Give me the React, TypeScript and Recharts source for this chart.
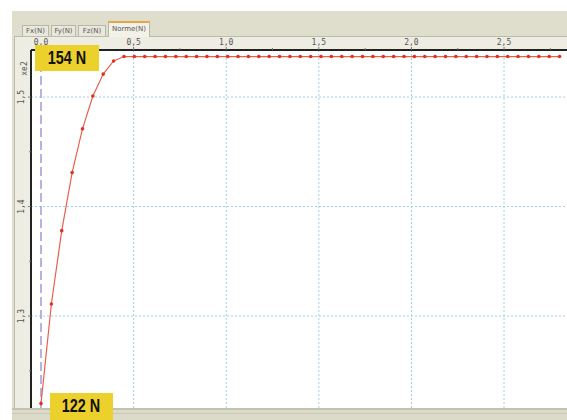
import React from 'react';
import { LineChart, Line, XAxis, YAxis, ReferenceLine } from 'recharts';

// time (s)
const times = [
  0, 0.056, 0.112, 0.168, 0.224, 0.28, 0.336, 0.392, 0.448, 0.504,
  0.56, 0.616, 0.672, 0.728, 0.784, 0.84, 0.896, 0.952, 1.008, 1.064,
  1.12, 1.176, 1.232, 1.288, 1.344, 1.4, 1.456, 1.512, 1.568, 1.624,
  1.68, 1.736, 1.792, 1.848, 1.904, 1.96, 2.016, 2.072, 2.128, 2.184,
  2.24, 2.296, 2.352, 2.408, 2.464, 2.52, 2.576, 2.632, 2.688, 2.744, 2.8,
];
// Norme (N) x e2
const norme = [
  1.22, 1.311, 1.378, 1.431, 1.471, 1.501, 1.521, 1.533, 1.537, 1.537,
  1.537, 1.537, 1.537, 1.537, 1.537, 1.537, 1.537, 1.537, 1.537, 1.537,
  1.537, 1.537, 1.537, 1.537, 1.537, 1.537, 1.537, 1.537, 1.537, 1.537,
  1.537, 1.537, 1.537, 1.537, 1.537, 1.537, 1.537, 1.537, 1.537, 1.537,
  1.537, 1.537, 1.537, 1.537, 1.537, 1.537, 1.537, 1.537, 1.537, 1.537, 1.537,
];
const xMajor = [0, 0.5, 1.0, 1.5, 2.0, 2.5];
const xTicks = [0, 0.25, 0.5, 0.75, 1.0, 1.25, 1.5, 1.75, 2.0, 2.25, 2.5, 2.75];
const yMajor = [1.3, 1.4, 1.5];
const yTicks = [1.25, 1.3, 1.35, 1.4, 1.45, 1.5];
const tabs = ['Fx(N)', 'Fy(N)', 'Fz(N)', 'Norme(N)'];
const maxLabel = '154 N';
const minLabel = '122 N';

const data = times.map((t, i) => ({ t, v: norme[i] }));

const fmt = (v: number) => v.toFixed(1).replace('.', ',');
const isMajor = (arr: number[], v: number) => arr.some((m) => Math.abs(m - v) < 1e-6);

const XTick = (props: any) => {
  const { x, payload } = props;
  const y = 50;
  const major = isMajor(xMajor, payload.value);
  return (
    <g>
      <line x1={x} x2={x} y1={y} y2={y - (major ? 3 : 2)} stroke="#777" strokeWidth={1} />
      {major && (
        <text x={x} y={y - 5} textAnchor="middle" fontSize={8} fill="#555" fontFamily="DejaVu Sans Mono, monospace">
          {fmt(payload.value)}
        </text>
      )}
    </g>
  );
};

const YTick = (props: any) => {
  const { y, payload } = props;
  const x = 31;
  const major = isMajor(yMajor, payload.value);
  return (
    <g>
      <line x1={x} x2={x - (major ? 3 : 2)} y1={y} y2={y} stroke="#777" strokeWidth={1} />
      {major && (
        <text
          x={x - 7}
          y={y}
          textAnchor="middle"
          fontSize={8}
          fill="#555"
          fontFamily="DejaVu Sans Mono, monospace"
          transform={`rotate(-90 ${x - 7} ${y})`}
        >
          {fmt(payload.value)}
        </text>
      )}
    </g>
  );
};

const labelStyle: React.CSSProperties = {
  position: 'absolute',
  background: '#ecd02c',
  color: '#111',
  fontFamily: "'Liberation Sans', Arial, sans-serif",
  fontWeight: 700,
  fontSize: 18,
  display: 'flex',
  alignItems: 'center',
  justifyContent: 'center',
  zIndex: 5,
};

export default function App() {
  return (
    <div style={{ position: 'absolute', left: 0, top: 0, width: 567, height: 420, background: '#fff', overflow: 'hidden' }}>
      {/* panel */}
      <div style={{ position: 'absolute', left: 12, top: 11, width: 555, height: 409, background: '#dfddcc' }} />
      {/* tabs */}
      {tabs.map((name, i) => {
        const lefts = [22, 51, 78, 108];
        const widths = [27, 25, 28, 42];
        const sel = i === tabs.length - 1;
        return (
          <div
            key={name}
            style={{
              position: 'absolute',
              left: lefts[i],
              top: sel ? 21 : 25,
              width: widths[i],
              height: sel ? 16 : 11,
              background: sel ? '#f3f2e8' : '#e9e8dc',
              border: '1px solid #b9b7a6',
              borderTop: sel ? '2px solid #e9a54a' : '1px solid #b9b7a6',
              borderBottom: 'none',
              boxSizing: 'border-box',
              fontFamily: 'DejaVu Sans, sans-serif',
              fontSize: 7,
              color: '#555',
              textAlign: 'center',
              lineHeight: sel ? '13px' : '10px',
              zIndex: 2,
            }}
          >
            {name}
          </div>
        );
      })}
      {/* inner frame */}
      <div
        style={{
          position: 'absolute',
          left: 14,
          top: 36,
          width: 553,
          height: 372,
          background: '#eeede3',
          borderTop: '1px solid #bdbba9',
          borderLeft: '1px solid #bdbba9',
          boxSizing: 'border-box',
        }}
      />
      {/* plot background */}
      <div style={{ position: 'absolute', left: 31, top: 50, width: 536, height: 358, background: '#fff' }} />
      {/* bottom bar */}
      <div
        style={{
          position: 'absolute',
          left: 12,
          top: 408,
          width: 555,
          height: 12,
          background: '#dcdac8',
          borderTop: '2px solid #c3c1b0',
          boxSizing: 'border-box',
        }}
      />
      <div style={{ position: 'absolute', left: 12, top: 413, width: 555, height: 1, background: '#c9c7b6' }} />
      {/* chart */}
      <div style={{ position: 'absolute', left: 0, top: 0, zIndex: 3 }}>
        <LineChart width={567} height={420} data={data} margin={{ top: 36, left: 12, right: 0, bottom: 12 }}>
          <XAxis
            dataKey="t"
            type="number"
            orientation="top"
            height={14}
            domain={[-0.054, 2.84]}
            ticks={xTicks}
            tick={<XTick />}
            tickLine={false}
            axisLine={{ stroke: '#222', strokeWidth: 2 }}
            allowDataOverflow
          />
          <YAxis
            type="number"
            width={19}
            domain={[1.216, 1.543]}
            ticks={yTicks}
            tick={<YTick />}
            tickLine={false}
            axisLine={{ stroke: '#222', strokeWidth: 2 }}
            allowDataOverflow
          />
          {xMajor.slice(1).map((v) => (
            <ReferenceLine key={'x' + v} x={v} stroke="#9fd0dd" strokeDasharray="2 2" strokeWidth={1} />
          ))}
          {yMajor.map((v) => (
            <ReferenceLine key={'y' + v} y={v} stroke="#9fd0dd" strokeDasharray="2 2" strokeWidth={1} />
          ))}
          <ReferenceLine x={0} stroke="#9c9cd8" strokeDasharray="9 4" strokeWidth={1.5} />
          <Line
            type="linear"
            dataKey="v"
            stroke="#e8604c"
            strokeWidth={1.2}
            dot={{ r: 1.8, fill: '#e0301e', stroke: 'none' }}
            isAnimationActive={false}
          />
        </LineChart>
      </div>
      {/* axis exponent */}
      <div
        style={{
          position: 'absolute',
          left: 17,
          top: 64,
          fontFamily: 'DejaVu Sans Mono, monospace',
          fontSize: 8,
          color: '#555',
          transform: 'rotate(-90deg)',
          zIndex: 4,
        }}
      >
        xe2
      </div>
      <div style={{ ...labelStyle, left: 35, top: 45, width: 64, height: 26 }}>
        <span style={{ display: 'inline-block', transform: 'scaleX(0.8)' }}>{maxLabel}</span>
      </div>
      <div style={{ ...labelStyle, left: 50, top: 393, width: 63, height: 27 }}>
        <span style={{ display: 'inline-block', transform: 'scaleX(0.8)' }}>{minLabel}</span>
      </div>
    </div>
  );
}
